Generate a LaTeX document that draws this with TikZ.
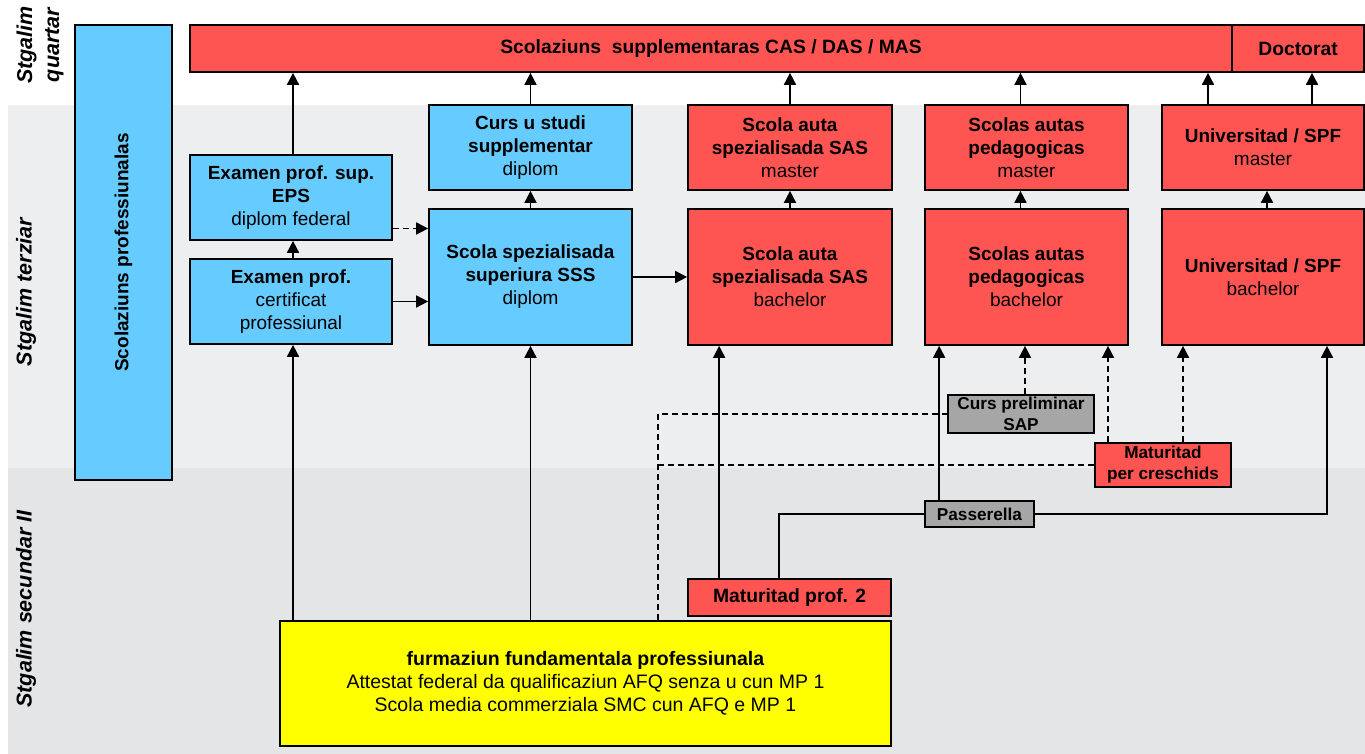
\documentclass[tikz,border=0pt]{standalone}
\usepackage{fontspec}
\setmainfont{Liberation Sans}
\usetikzlibrary{arrows.meta,positioning}
\definecolor{cblue}{HTML}{66CCFF}
\definecolor{cred}{HTML}{FF5552}
\definecolor{cgray}{HTML}{A6A6A6}
\definecolor{cyell}{HTML}{FFFF00}
\definecolor{bandT}{HTML}{EDEEF0}
\definecolor{bandS}{HTML}{E4E5E7}
\tikzset{
  bx/.style={draw=black, line width=1.7pt, align=center, inner sep=0pt,
    font=\fontsize{19}{23}\selectfont},
  bl/.style={bx, fill=cblue},
  rd/.style={bx, fill=cred},
  gr/.style={bx, fill=cgray, font=\bfseries\fontsize{17.2}{21}\selectfont},
  ye/.style={bx, fill=cyell, font=\fontsize{19.5}{23}\selectfont},
  arr/.style={line width=1.7pt, -{Triangle[length=12pt,width=12pt]}},
  ln/.style={line width=1.7pt},
  dsh/.style={line width=1.7pt, dash pattern=on 6pt off 4pt},
  lvl/.style={rotate=90, font=\bfseries\itshape\fontsize{21.5}{27}\selectfont, align=center}
}
\begin{document}
\begin{tikzpicture}[x=1pt,y=-1pt]
\useasboundingbox (0,0) rectangle (1365,754);
\fill[bandT] (8,105) rectangle (1365,468);
\fill[bandS] (8,468) rectangle (1365,754);
% level labels
\node[lvl] (lq) at (40,45) {Stgalim\\quartar};
\node[lvl] (lt) at (26,292) {Stgalim terziar};
\node[lvl] (ls) at (26,609) {Stgalim secundar II};
% boxes
\node[bl, minimum width=97pt, minimum height=455pt] (sp) at (123.5,252.5) {};
\node[rotate=90, font=\bfseries\fontsize{19}{21}\selectfont] (spt) at (sp.center) {Scolaziuns professiunalas};
\node[rd, minimum width=1042pt, minimum height=47pt, font=\bfseries\fontsize{19.3}{23}\selectfont] (top) at (711,48.5) {Scolaziuns\ \ supplementaras CAS / DAS / MAS};
\node[rd, minimum width=132pt, minimum height=47pt, font=\bfseries\fontsize{19.3}{23}\selectfont] (doc) at (1298,48.5) {Doctorat};
\node[bl, minimum width=202pt, minimum height=85pt] (eps) at (291,197.5) {\textbf{Examen prof. sup.}\\\textbf{EPS}\\diplom federal};
\node[bl, minimum width=202pt, minimum height=85pt] (ep) at (291,301.5) {\textbf{Examen prof.}\\certificat\\professiunal};
\node[bl, minimum width=203pt, minimum height=85pt] (cs) at (530.5,147.5) {\textbf{Curs u studi}\\\textbf{supplementar}\\diplom};
\node[bl, minimum width=203pt, minimum height=136pt] (sss) at (530.5,277) {\textbf{Scola spezialisada}\\\textbf{superiura SSS}\\diplom};
\node[rd, minimum width=204pt, minimum height=85pt] (sasm) at (790,147.5) {\textbf{Scola auta}\\\textbf{spezialisada SAS}\\master};
\node[rd, minimum width=204pt, minimum height=136pt] (sasb) at (790,277) {\textbf{Scola auta}\\\textbf{spezialisada SAS}\\bachelor};
\node[rd, minimum width=203pt, minimum height=85pt] (pedm) at (1026.5,147.5) {\textbf{Scolas autas}\\\textbf{pedagogicas}\\master};
\node[rd, minimum width=203pt, minimum height=136pt] (pedb) at (1026.5,277) {\textbf{Scolas autas}\\\textbf{pedagogicas}\\bachelor};
\node[rd, minimum width=202pt, minimum height=85pt] (unim) at (1263,147.5) {\textbf{Universitad / SPF}\\master};
\node[rd, minimum width=202pt, minimum height=136pt] (unib) at (1263,277) {\textbf{Universitad / SPF}\\bachelor};
\node[gr, minimum width=146pt, minimum height=38pt] (cp) at (1021,414) {Curs preliminar\\SAP};
\node[gr, minimum width=109pt, minimum height=26pt] (pa) at (979.5,514) {Passerella};
\node[rd, minimum width=136pt, minimum height=44pt, font=\bfseries\fontsize{17.2}{21}\selectfont] (mc) at (1163,465) {Maturitad\\per creschids};
\node[rd, minimum width=203pt, minimum height=37pt, font=\bfseries\fontsize{19.3}{21}\selectfont] (mp) at (789.5,597.5) {Maturitad prof. 2};
\node[ye, minimum width=611pt, minimum height=125pt] (ye) at (585.5,683.5) {\textbf{furmaziun fundamentala professiunala}\\Attestat federal da qualificaziun AFQ senza u cun MP 1\\Scola media commerziala SMC cun AFQ e MP 1};
% arrows to top bar
\draw[arr] ([xshift=2pt]eps.north) -- ([xshift=2pt]eps.north |- top.south);
\draw[arr] (cs.north) -- (cs.north |- top.south);
\draw[arr] (sasm.north) -- (sasm.north |- top.south);
\draw[arr] ([xshift=-6pt]pedm.north) -- ([xshift=-6pt]pedm.north |- top.south);
\draw[arr] ([xshift=-55pt]unim.north) -- ([xshift=-55pt]unim.north |- top.south);
\draw[arr] ([xshift=49pt]unim.north) -- ([xshift=49pt]unim.north |- doc.south);
% within tertiary
\draw[arr] ([xshift=2pt]ep.north) -- ([xshift=2pt]eps.south);
\draw[arr] (ep.east) -- (ep.east -| sss.west);
\draw[arr, dash pattern=on 6pt off 4pt] ([yshift=-31pt]eps.east) -- ([yshift=-31pt]eps.east -| sss.west);
\draw[arr] (sss.north) -- (cs.south);
\draw[arr] (sss.east) -- (sasb.west);
\draw[arr] (sasb.north) -- (sasm.north |- sasm.south);
\draw[arr] ([xshift=-6pt]pedb.north) -- ([xshift=-6pt]pedm.south);
\draw[arr] ([xshift=4pt]unib.north) -- ([xshift=4pt]unim.south);
% from yellow
\draw[arr] ([xshift=2pt]ep.south |- ye.north) -- ([xshift=2pt]ep.south);
\draw[arr] (sss.south |- ye.north) -- (sss.south);
\coordinate (dy) at ([xshift=72.5pt]ye.north);
\draw[dsh] (dy) |- (cp.west);
\draw[dsh] (dy |- mc.west) -- (mc.west);
% maturitad prof 2
\draw[arr] ([xshift=32pt]mp.north west) -- ([xshift=32pt]mp.north west |- sasb.south);
\draw[ln] ([xshift=92pt]mp.north west) |- (pa.west);
\draw[arr] ([xshift=15pt]pa.north west) -- ([xshift=15pt]pa.north west |- pedb.south);
\draw[arr] (pa.east) -| ([xshift=64pt]unib.south);
% dashed upward
\draw[arr, dash pattern=on 6pt off 4pt] ([xshift=4pt]cp.north) -- ([xshift=4pt]cp.north |- pedb.south);
\draw[arr, dash pattern=on 6pt off 4pt] ([xshift=-55pt]mc.north) -- ([xshift=-55pt]mc.north |- pedb.south);
\draw[arr, dash pattern=on 6pt off 4pt] ([xshift=20pt]mc.north) -- ([xshift=20pt]mc.north |- unib.south);
\end{tikzpicture}
\end{document}
